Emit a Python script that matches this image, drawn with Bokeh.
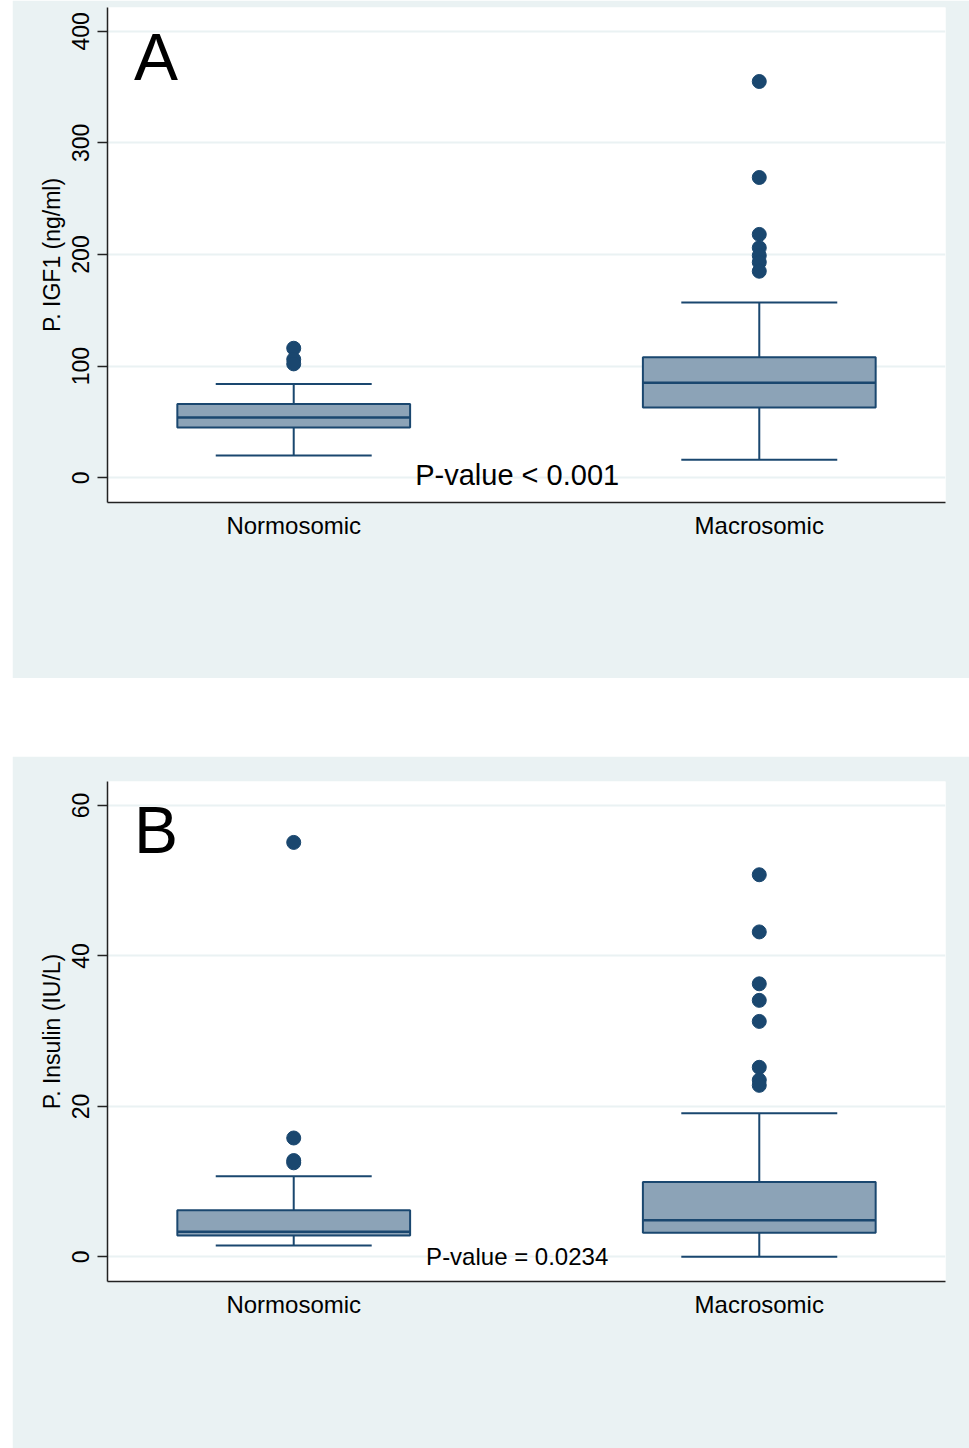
from bokeh.plotting import figure
from bokeh.layouts import column
from bokeh.models import Range1d, FixedTicker, ColumnDataSource
from bokeh.core.properties import value
from bokeh.embed import file_html
from bokeh.resources import INLINE

# ---------------- data ----------------
categories = ["Normosomic", "Macrosomic"]
cat_pos = [1, 2]

# Panel A: P. IGF1 (ng/ml)
igf_low = [20, 16]
igf_q1 = [45, 63]
igf_median = [54, 85]
igf_q3 = [66, 108]
igf_high = [84, 157]
igf_out_norm = [116, 106, 102]
igf_out_macro = [355, 269, 218, 206, 199, 193, 185]
igf_ticks = [0, 100, 200, 300, 400]

# Panel B: P. Insulin (IU/L)
ins_low = [1.5, 0]
ins_q1 = [2.85, 3.2]
ins_median = [3.35, 4.85]
ins_q3 = [6.2, 9.95]
ins_high = [10.7, 19.1]
ins_out_norm = [55.1, 15.8, 12.8, 12.5]
ins_out_macro = [50.8, 43.2, 36.3, 34.1, 31.3, 25.2, 23.5, 22.8]
ins_ticks = [0, 20, 40, 60]

# ---------------- style ----------------
FONT = "Liberation Sans"
BG = "#EAF2F3"
NAVY = "#1A476F"
FILL = "#8CA3B7"
AXIS = "#222222"
BOX_W = 0.5
CAP_HALF = 0.1675


def make_panel(low, q1, med, q3, high, out_norm, out_macro, ticks, yr, ylabel,
               letter, letter_y, ptext, ptext_y, ptext_size,
               height, top, bottom, margin):
    p = figure(width=957, height=height, output_backend="svg", toolbar_location=None,
               x_range=Range1d(0.6, 2.4), y_range=Range1d(*yr),
               min_border_left=95, min_border_right=24,
               min_border_top=top, min_border_bottom=bottom)
    p.margin = margin
    p.border_fill_color = BG
    p.background_fill_color = "white"
    p.outline_line_color = None

    src = ColumnDataSource(dict(x=cat_pos, low=low, q1=q1, med=med, q3=q3, high=high,
                                xl=[c - CAP_HALF for c in cat_pos],
                                xr=[c + CAP_HALF for c in cat_pos],
                                bl=[c - BOX_W / 2 for c in cat_pos],
                                br=[c + BOX_W / 2 for c in cat_pos]))
    # whiskers
    p.segment(x0="x", y0="q3", x1="x", y1="high", source=src, line_color=NAVY, line_width=2)
    p.segment(x0="x", y0="low", x1="x", y1="q1", source=src, line_color=NAVY, line_width=2)
    p.segment(x0="xl", y0="high", x1="xr", y1="high", source=src, line_color=NAVY, line_width=2)
    p.segment(x0="xl", y0="low", x1="xr", y1="low", source=src, line_color=NAVY, line_width=2)
    # boxes
    p.vbar(x="x", width=BOX_W, bottom="q1", top="q3", source=src,
           fill_color=FILL, line_color=NAVY, line_width=2)
    p.segment(x0="bl", y0="med", x1="br", y1="med", source=src, line_color=NAVY, line_width=2.5)
    # outliers
    p.scatter([cat_pos[0]] * len(out_norm), out_norm, size=14, color=NAVY)
    p.scatter([cat_pos[1]] * len(out_macro), out_macro, size=14, color=NAVY)

    # panel letter
    p.text(x=[0.657], y=[letter_y], text=[letter], text_font=value(FONT),
           text_font_size=value("66px"), text_align="left", text_baseline="alphabetic",
           text_color="black")
    # p-value
    p.text(x=[1.48], y=[ptext_y], text=[ptext], text_font=value(FONT),
           text_font_size=value(ptext_size), text_align="center", text_baseline="alphabetic",
           text_color="black")

    # axes
    p.xaxis.ticker = FixedTicker(ticks=cat_pos)
    p.xaxis.major_label_overrides = {c: n for c, n in zip(cat_pos, categories)}
    p.xaxis.major_tick_line_color = None
    p.xaxis.minor_tick_line_color = None
    p.xaxis.axis_line_color = AXIS
    p.xaxis.axis_line_width = 1.5
    p.xaxis.major_label_text_font = FONT
    p.xaxis.major_label_text_font_size = "24px"
    p.xaxis.major_label_text_color = "black"
    p.xaxis.major_label_standoff = 3

    p.yaxis.ticker = FixedTicker(ticks=ticks)
    p.yaxis.axis_label = ylabel
    p.yaxis.axis_label_text_font = FONT
    p.yaxis.axis_label_text_font_size = "23px"
    p.yaxis.axis_label_text_font_style = "normal"
    p.yaxis.axis_label_text_color = "black"
    p.yaxis.axis_label_standoff = 5
    p.yaxis.major_label_orientation = "vertical"
    p.yaxis.major_label_text_font = FONT
    p.yaxis.major_label_text_font_size = "23px"
    p.yaxis.major_label_text_color = "black"
    p.yaxis.major_label_standoff = 8
    p.yaxis.major_tick_in = 0
    p.yaxis.major_tick_out = 10
    p.yaxis.major_tick_line_color = AXIS
    p.yaxis.major_tick_line_width = 1.5
    p.yaxis.minor_tick_line_color = None
    p.yaxis.axis_line_color = AXIS
    p.yaxis.axis_line_width = 1.5

    p.xgrid.visible = False
    p.ygrid.ticker = FixedTicker(ticks=ticks)
    p.ygrid.grid_line_color = BG
    p.ygrid.grid_line_width = 2
    return p


pa = make_panel(igf_low, igf_q1, igf_median, igf_q3, igf_high, igf_out_norm, igf_out_macro,
                igf_ticks, (-22.2, 421.3), "P. IGF1 (ng/ml)", "A", 376.8,
                "P-value < 0.001", 2.0, "29px", 678, 7, 176, (0, 0, 0, 12))
pb = make_panel(ins_low, ins_q1, ins_median, ins_q3, ins_high, ins_out_norm, ins_out_macro,
                ins_ticks, (-3.28, 63.2), "P. Insulin (IU/L)", "B", 56.7,
                "P-value = 0.0234", 0.08, "24px", 692, 25, 167, (78, 0, 0, 12))

layout = column(pa, pb)
open("out.html", "w").write(file_html(layout, INLINE))
